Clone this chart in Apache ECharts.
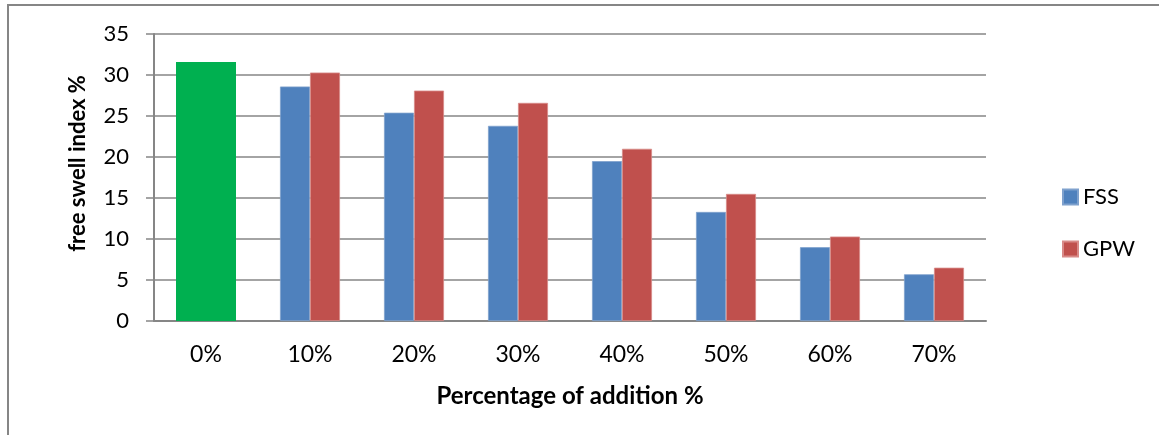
<!DOCTYPE html>
<html>
<head>
<meta charset="utf-8">
<title>Free swell index</title>
<script src="https://cdn.jsdelivr.net/npm/echarts@6/dist/echarts.min.js"></script>
<style>
  html, body { margin: 0; padding: 0; background: #ffffff; }
  #chart { width: 1159px; height: 435px; }
</style>
</head>
<body>
<div id="chart"></div>
<script>
// Addition levels on the x axis
const categories = ['0%', '10%', '20%', '30%', '40%', '50%', '60%', '70%'];
// Free swell index (%) for each additive
const fssValues = [31.6, 28.6, 25.4, 23.8, 19.5, 13.3, 9.0, 5.7];
const gpwValues = [31.6, 30.3, 28.1, 26.6, 21.0, 15.5, 10.3, 6.5];
const yTicks = { min: 0, max: 35, interval: 5 };

const FONT = 'Lato, "Open Sans", sans-serif';
const AXIS_GREY = '#868686';
const CONTROL_GREEN = '#00B050';

// The untreated soil (0%) is the common control, shown in green for both series
function withControl(values) {
  return values.map((v, i) => i === 0
    ? { value: v, itemStyle: { color: CONTROL_GREEN, borderWidth: 0 } }
    : v);
}

const chart = echarts.init(document.getElementById('chart'), null, { renderer: 'canvas' });

chart.setOption({
  backgroundColor: '#ffffff',
  animation: false,
  graphic: [{
    type: 'rect',
    shape: { x: 8, y: 5, width: 1300, height: 600 },
    style: { fill: 'none', stroke: AXIS_GREY, lineWidth: 2 },
    silent: true,
    z: -10
  }],
  // plot width of 832 px gives whole-pixel category bands (104 px each)
  grid: { left: 154, right: 173, top: 34, bottom: 114, containLabel: false },
  legend: {
    orient: 'vertical',
    left: 1062,
    top: 186,
    padding: 0,
    itemWidth: 15,
    itemHeight: 15,
    itemGap: 30,
    icon: 'rect',
    textStyle: { fontFamily: FONT, fontSize: 22, color: '#000000' },
    data: ['FSS', 'GPW']
  },
  xAxis: {
    type: 'category',
    data: categories,
    name: 'Percentage of addition %',
    nameLocation: 'middle',
    nameGap: 63,
    nameTextStyle: { fontFamily: FONT, fontSize: 24, fontWeight: 'bold', color: '#000000' },
    axisLine: { show: true, lineStyle: { color: AXIS_GREY, width: 2 } },
    axisTick: { show: false },
    axisLabel: { fontFamily: FONT, fontSize: 23, color: '#000000', margin: 22 },
    splitLine: { show: false }
  },
  yAxis: {
    type: 'value',
    min: yTicks.min,
    max: yTicks.max,
    interval: yTicks.interval,
    name: 'free swell index %',
    nameLocation: 'middle',
    nameGap: 65,
    nameRotate: 90,
    nameTextStyle: {
      fontFamily: FONT, fontSize: 22, fontWeight: 'bold', color: '#000000',
      padding: [0, 0, 0, 28]
    },
    axisLine: { show: true, lineStyle: { color: AXIS_GREY, width: 2 } },
    axisTick: { show: true, inside: false, length: 8, lineStyle: { color: AXIS_GREY, width: 1.5 } },
    axisLabel: { fontFamily: FONT, fontSize: 22, color: '#000000', margin: 25 },
    splitLine: { show: true, lineStyle: { color: AXIS_GREY, width: 1.5 } }
  },
  series: [
    {
      name: 'FSS',
      type: 'bar',
      barWidth: 30,
      barGap: '0%',
      itemStyle: { color: '#4F81BD', borderColor: '#7FA1CD', borderWidth: 0.8 },
      data: withControl(fssValues)
    },
    {
      name: 'GPW',
      type: 'bar',
      barWidth: 30,
      barGap: '0%',
      itemStyle: { color: '#C0504D', borderColor: '#D88A88', borderWidth: 0.8 },
      data: withControl(gpwValues)
    }
  ]
});
</script>
</body>
</html>
